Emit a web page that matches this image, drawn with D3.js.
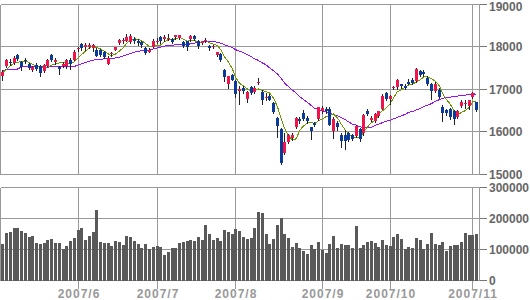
<!DOCTYPE html>
<html><head><meta charset="utf-8">
<script src="https://cdn.jsdelivr.net/npm/d3@7"></script>
<style>html,body{margin:0;padding:0;background:#fff;} svg{display:block;}</style>
</head><body><svg id="chart" width="530" height="300"></svg>
<script>
// ---------- data ----------
const monthLabels = ["2007/5", "2007/6", "2007/7", "2007/8", "2007/9", "2007/10", "2007/11"];
const monthDays = [
  [2, 7, 8, 9, 10, 11, 14, 15, 16, 17, 18, 21, 22, 23, 24, 25, 28, 29, 30, 31],
  [1, 4, 5, 6, 7, 8, 11, 12, 13, 14, 15, 18, 19, 20, 21, 22, 25, 26, 27, 28, 29],
  [2, 3, 4, 5, 6, 9, 10, 11, 12, 13, 17, 18, 19, 20, 23, 24, 25, 26, 27, 30, 31],
  [1, 2, 3, 6, 7, 8, 9, 10, 13, 14, 15, 16, 17, 20, 21, 22, 23, 24, 27, 28, 29, 30, 31],
  [3, 4, 5, 6, 7, 10, 11, 12, 13, 14, 18, 19, 20, 21, 25, 26, 27, 28],
  [1, 2, 3, 4, 5, 9, 10, 11, 12, 15, 16, 17, 18, 19, 22, 23, 24, 25, 26, 29, 30, 31],
  [1, 2]
];
const openPrices = [17298,17532,17630,17610,17797,17625,17688,17587,17454,17571,17532,17423,17548,17797,17641,17516,17532,17532,17688,17688,
  17930,18062,18000,17984,17969,17922,17906,17860,17594,17813,17922,18094,18125,18140,18109,18172,18140,18109,17969,17875,18000,
  18125,18219,18172,18190,18180,18219,18203,18109,18125,18172,18250,18140,18094,18140,18016,17984,17797,17828,17454,17126,17321,
  17181,16955,17017,16768,17048,16931,17165,16939,16800,16846,16674,16315,16066,15488,15754,15847,16097,16300,16424,16315,16097,16206,16284,
  16487,16534,16518,16003,16206,15910,15910,15956,15910,15894,16050,15956,16487,16268,16253,16362,16534,16908,
  16768,17033,17048,17111,17080,17173,17220,17189,17423,17407,17267,17111,16955,16986,16580,16502,16518,16486,16346,16611,16650,16611,
  16814,16690];
const highPrices = [17438,17711,17711,17766,17828,17657,17735,17610,17548,17610,17563,17594,17711,17828,17735,17548,17625,17711,17735,17922,
  18000,18094,18078,18078,18062,17953,17938,17890,17766,17875,18000,18180,18203,18297,18297,18219,18180,18140,18000,17953,18172,
  18203,18250,18265,18297,18203,18281,18281,18125,18140,18265,18265,18156,18140,18203,18031,18047,17875,17844,17470,17314,17345,
  17204,17080,17080,16955,17064,17080,17267,16970,16908,16877,16690,16331,16081,15956,15941,15956,16346,16346,16502,16362,16112,16222,16580,
  16596,16565,16565,16331,16237,15956,16034,15988,15941,16159,16081,16409,16518,16362,16440,16487,16877,16939,
  16861,17080,17236,17126,17111,17236,17251,17485,17454,17438,17298,17142,17158,17017,16619,16533,16550,16510,16502,16736,16752,16752,
  16924,16705];
const lowPrices = [17204,17516,17555,17594,17688,17454,17610,17470,17423,17438,17306,17399,17532,17657,17594,17360,17516,17493,17477,17672,
  17890,17922,17922,17953,17890,17766,17766,17719,17579,17782,17906,18062,18094,18125,18078,18094,18047,17984,17813,17860,17984,
  18094,18094,18140,18156,18094,18187,18187,18000,17922,18140,18156,17953,18062,18109,17906,17953,17782,17657,17188,17017,17204,
  16814,16658,16908,16690,16892,16908,17126,16658,16736,16736,16424,15863,15239,15473,15722,15800,16081,16190,16268,16206,15832,16128,16268,
  16440,16424,16144,15847,16034,15644,15598,15785,15800,15878,15785,15925,16378,16237,16222,16346,16518,16736,
  16643,17002,17002,17017,17002,17111,17126,17158,17314,17314,17095,16768,16939,16799,16252,16400,16300,16174,16315,16580,16564,16518,
  16799,16487];
const closePrices = [17399,17672,17625,17735,17711,17516,17657,17500,17516,17477,17376,17563,17672,17688,17688,17462,17594,17672,17594,17875,
  17961,17953,18047,18047,18047,17782,17797,17750,17735,17844,17984,18156,18156,18219,18250,18125,18078,18047,17844,17922,18140,
  18140,18125,18219,18203,18109,18265,18265,18016,17984,18250,18187,18016,18125,18156,17953,18016,17860,17688,17282,17298,17220,
  16877,17002,16955,16931,16908,17033,17173,16752,16814,16752,16456,16128,15270,15754,15910,15910,16315,16237,16284,16237,16019,16144,16565,
  16549,16487,16159,16300,16112,15769,15785,15800,15816,16128,15816,16378,16409,16315,16409,16471,16830,16768,
  16846,17048,17204,17064,17033,17126,17142,17470,17329,17345,17126,16955,17126,16814,16440,16440,16346,16284,16486,16689,16666,16736,
  16908,16502];
const volumes = [116500,152100,155400,168300,168300,158600,152100,139200,142400,119800,116500,119800,129500,132700,119800,119800,99300,110100,126200,136000,
  161900,168300,129500,142400,155400,226600,123000,119800,119800,110100,126200,123000,113300,142400,139200,126200,116500,103600,116500,100300,106800,
  110100,106800,80900,90600,103600,103600,119800,123000,126200,129500,126200,139200,129500,178000,148900,129500,136000,126200,161900,155400,148900,
  165100,158600,139200,132700,136000,168300,220100,216900,148900,116500,132700,178000,199600,148900,136000,106800,119800,103600,93900,84200,113300,100300,123000,
  97100,87400,116500,142400,103600,116500,113300,113300,103600,174800,103600,113300,123000,126200,119800,106800,129500,113300,
  110100,139200,148900,132700,100300,106800,103600,136000,129500,100300,116500,152100,116500,113300,123000,93900,110100,113300,113300,123000,152100,145700,
  145700,148900];
// moving-average values for the first days (history before the window)
const ma5Lead = [17376, 17462, 17548, 17610];
const ma25Lead = [17423, 17454, 17462, 17466, 17470, 17516, 17524, 17520, 17524, 17528, 17524, 17520, 17516, 17520, 17524,
  17528, 17524, 17520, 17524, 17532, 17571, 17594, 17618, 17657];
const priceTicks = [15000, 16000, 17000, 18000, 19000];
const volumeTicks = [0, 100000, 200000, 300000];

// ---------- chart ----------
const svg = d3.select("#chart");
const dates = [];
monthLabels.forEach((m, k) => monthDays[k].forEach(d => dates.push(m + "/" + d)));
const rows = dates.map((d, i) => ({date: d, o: openPrices[i], h: highPrices[i], l: lowPrices[i], c: closePrices[i], v: volumes[i]}));
rows.forEach((r, i) => {
  r.ma5 = i < 4 ? ma5Lead[i] : d3.mean(closePrices.slice(i - 4, i + 1));
  r.ma25 = i < 24 ? ma25Lead[i] : d3.mean(closePrices.slice(i - 24, i + 1));
});

const x = d3.scaleBand().domain(dates).range([1, 478.5]).padding(0);
const col = d => Math.floor(x(d) + x.bandwidth() / 2);
const y = d3.scaleLinear().domain([15000, 19000]).range([174, 4]);
const yv = d3.scaleLinear().domain([0, 300000]).range([280, 187]);
const px = v => Math.floor(v) + 0.5;

const gridColor = "#999";
const L = 0.5, R = 479.5;

const grid = svg.append("g").attr("stroke", gridColor).attr("stroke-width", 1).attr("shape-rendering", "crispEdges");
priceTicks.forEach(t => grid.append("line").attr("x1", L).attr("x2", R).attr("y1", px(y(t))).attr("y2", px(y(t))));
volumeTicks.forEach(t => grid.append("line").attr("x1", L).attr("x2", R).attr("y1", px(yv(t))).attr("y2", px(yv(t))));
[[px(y(19000)), px(y(15000))], [px(yv(300000)), px(yv(0))]].forEach(([t, b]) => {
  grid.append("line").attr("x1", L).attr("x2", L).attr("y1", t).attr("y2", b);
  grid.append("line").attr("x1", R).attr("x2", R).attr("y1", t).attr("y2", b);
});
const monthStarts = monthLabels.map((m, k) => m + "/" + monthDays[k][0]).slice(1);
monthStarts.forEach(d => {
  const xx = col(d) + 0.5;
  grid.append("line").attr("x1", xx).attr("x2", xx).attr("y1", px(y(19000))).attr("y2", px(y(15000)));
  grid.append("line").attr("x1", xx).attr("x2", xx).attr("y1", px(yv(300000))).attr("y2", px(yv(0)) + 8);
});
const tk = svg.append("g").attr("stroke", "#777").attr("shape-rendering", "crispEdges");
priceTicks.forEach(t => tk.append("line").attr("x1", R).attr("x2", 487).attr("y1", px(y(t))).attr("y2", px(y(t))));
volumeTicks.forEach(t => tk.append("line").attr("x1", R).attr("x2", 487).attr("y1", px(yv(t))).attr("y2", px(yv(t))));

const lab = svg.append("g").attr("font-family", "'Liberation Sans', Arial, sans-serif").attr("font-weight", "bold").attr("font-size", 12);
priceTicks.forEach(t => lab.append("text").attr("x", 489).attr("y", Math.max(px(y(t)) + 4.5, 11)).attr("fill", "#666").text(t));
volumeTicks.forEach(t => lab.append("text").attr("x", 489).attr("y", px(yv(t)) + 4.5).attr("fill", "#666").text(t));
monthStarts.forEach((d, k) => lab.append("text").attr("x", col(d) + 1).attr("y", 298).attr("text-anchor", "middle")
  .attr("fill", "#999").attr("letter-spacing", 1).text(monthLabels[k + 1]));

svg.append("g").attr("fill", "#595959").attr("shape-rendering", "crispEdges")
  .selectAll("rect").data(rows).join("rect")
  .attr("x", r => col(r.date) - 1).attr("width", 3)
  .attr("y", r => Math.round(yv(r.v))).attr("height", r => Math.round(yv(0)) + 1 - Math.round(yv(r.v)));

const line = key => d3.line().x(r => col(r.date) + 0.5).y(r => y(r[key]));
svg.append("path").datum(rows).attr("d", line("ma25")).attr("fill", "none").attr("stroke", "#9a10f5").attr("stroke-width", 1).attr("shape-rendering", "crispEdges");
svg.append("path").datum(rows).attr("d", line("ma5")).attr("fill", "none").attr("stroke", "#6b9a00").attr("stroke-width", 1).attr("shape-rendering", "crispEdges");

const cg = svg.append("g").attr("shape-rendering", "crispEdges");
cg.selectAll("line").data(rows).join("line")
  .attr("x1", r => col(r.date) + 0.5).attr("x2", r => col(r.date) + 0.5)
  .attr("y1", r => Math.round(y(r.h))).attr("y2", r => Math.round(y(r.l)) + 1)
  .attr("stroke", "#222");
cg.selectAll("rect").data(rows).join("rect")
  .attr("x", r => col(r.date) - 1).attr("width", 3)
  .attr("y", r => Math.round(y(Math.max(r.o, r.c))))
  .attr("height", r => Math.max(1, Math.round(y(Math.min(r.o, r.c))) - Math.round(y(Math.max(r.o, r.c)))))
  .attr("fill", r => r.c >= r.o ? "#f0144b" : "#0a3a9a");
</script></body></html>
